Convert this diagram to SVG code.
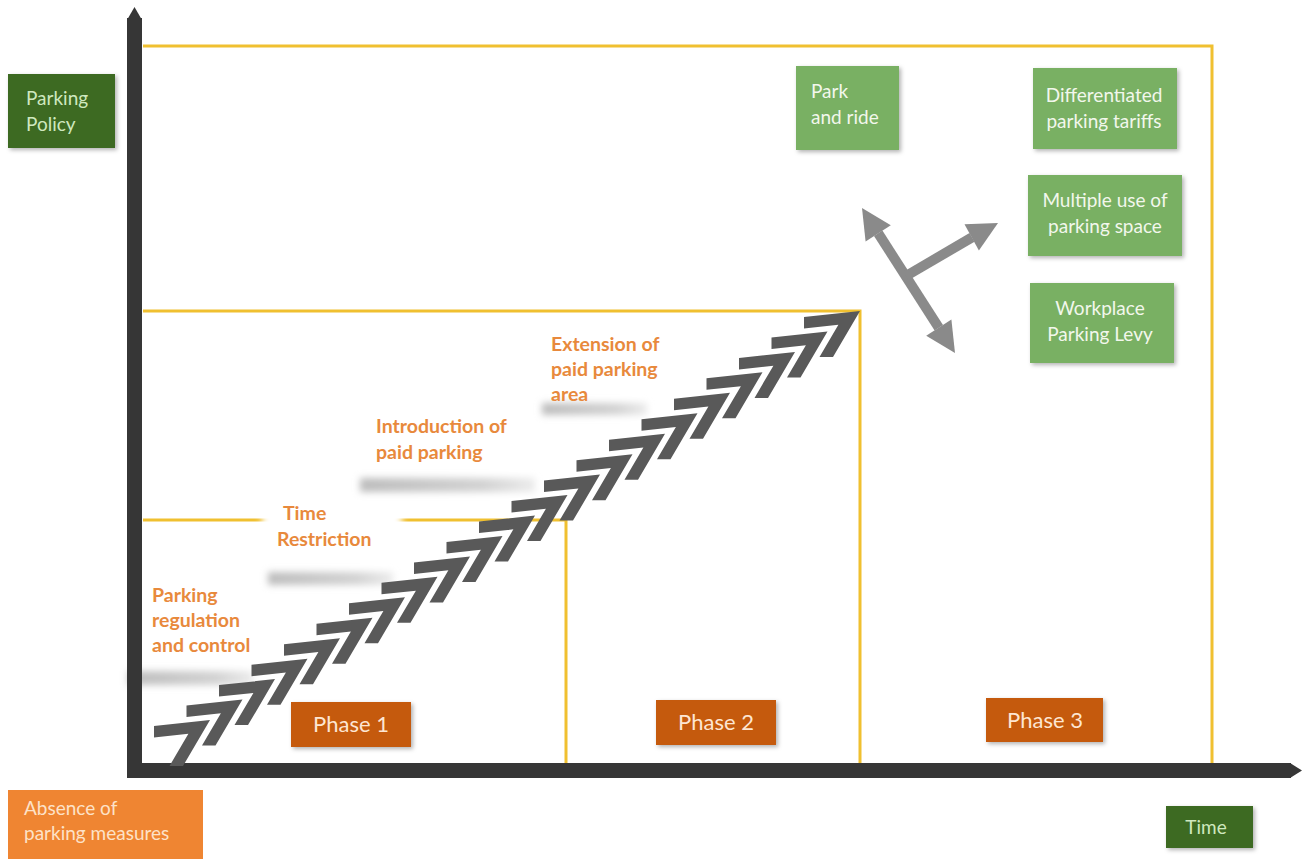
<svg xmlns="http://www.w3.org/2000/svg" width="1303" height="859" viewBox="0 0 1303 859">
<defs>
<style>
.ax{fill:#363636}
.yl{stroke:#f0c030;stroke-width:3;fill:none}
.dg{fill:#3d6b23}
.lg{fill:#79b064}
.ph{fill:#c55a11}
.ab{fill:#ef8532}
.t{font-family:Lato,"Liberation Sans",sans-serif;font-size:19px}
.tw{fill:#f2f7ec}
.tdg{fill:#cfe8bf}
.tph{fill:#fde6d2;font-size:22px}
.tab{fill:#fde2c8}
.or{font-family:Lato,"Liberation Sans",sans-serif;font-size:19.5px;font-weight:bold;fill:#e8893c}
.ar{fill:#8a8a8a}
.arl{stroke:#8a8a8a;stroke-width:10}
.sh{fill:url(#shg);filter:url(#blur)}
</style>
<linearGradient id="shg" x1="0" y1="0" x2="1" y2="0">
<stop offset="0" stop-color="#bdbdbd"/>
<stop offset="0.7" stop-color="#d2d2d2"/>
<stop offset="1" stop-color="#ececec"/>
</linearGradient>
<filter id="blur" x="-20%" y="-100%" width="140%" height="300%"><feGaussianBlur stdDeviation="3.5"/></filter>
<filter id="ds" x="-10%" y="-10%" width="125%" height="130%"><feDropShadow dx="2" dy="2" stdDeviation="2" flood-color="#000" flood-opacity="0.3"/></filter>
<path id="chev" d="M0,0 L-56,6 L-56,17.5 L-21.6,13.8 L-40.5,46 L-27,46 Z" fill="#595959"/>
</defs>
<rect width="1303" height="859" fill="#fff"/>

<g id="frames">
<path class="yl" d="M143,46 H1212 V763"/>
<path class="yl" d="M143,311 H860 V763"/>
<path class="yl" d="M143,520 H566 V763"/>
</g>

<g id="shadows">
<rect class="sh" x="128" y="671" width="125" height="14"/>
<rect class="sh" x="268" y="572" width="125" height="13"/>
<rect class="sh" x="360" y="478" width="175" height="14"/>
<rect class="sh" x="542" y="403" width="105" height="12"/>
<rect x="262" y="508" width="140" height="24" fill="#fff" filter="url(#blur)"/>
</g>

<g id="axes">
<rect class="ax" x="127" y="18" width="15" height="760"/>
<polygon class="ax" points="127,20 134.5,7 142,20"/>
<rect class="ax" x="127" y="763" width="1164" height="15"/>
<polygon class="ax" points="1290,763 1302,770.5 1290,778"/>
</g>

<g id="staircase">
<use href="#chev" x="210" y="720"/>
<use href="#chev" x="242.5" y="699.55"/>
<use href="#chev" x="275" y="679.1"/>
<use href="#chev" x="307.5" y="658.65"/>
<use href="#chev" x="340" y="638.2"/>
<use href="#chev" x="372.5" y="617.75"/>
<use href="#chev" x="405" y="597.3"/>
<use href="#chev" x="437.5" y="576.85"/>
<use href="#chev" x="470" y="556.4"/>
<use href="#chev" x="502.5" y="535.95"/>
<use href="#chev" x="535" y="515.5"/>
<use href="#chev" x="567.5" y="495.05"/>
<use href="#chev" x="600" y="474.6"/>
<use href="#chev" x="632.5" y="454.15"/>
<use href="#chev" x="665" y="433.7"/>
<use href="#chev" x="697.5" y="413.25"/>
<use href="#chev" x="730" y="392.8"/>
<use href="#chev" x="762.5" y="372.35"/>
<use href="#chev" x="795" y="351.9"/>
<use href="#chev" x="827.5" y="331.45"/>
<use href="#chev" x="860" y="311"/>
</g>

<g id="connectors">
<line class="arl" x1="878.2" y1="233.3" x2="938.8" y2="327.7"/>
<polygon class="ar" points="862,208 890.8,225.2 865.6,241.4"/>
<polygon class="ar" points="955,353 951.4,319.6 926.2,335.8"/>
<line class="arl" x1="906" y1="276" x2="972" y2="237.4"/>
<polygon class="ar" points="998,223 978.9,250.6 964.5,224.2"/>
</g>

<g id="labels">
<text class="or" x="152" y="602">Parking</text>
<text class="or" x="152" y="627">regulation</text>
<text class="or" x="152" y="652">and control</text>
<text class="or" x="283" y="520">Time</text>
<text class="or" x="277" y="546">Restriction</text>
<text class="or" x="376" y="433">Introduction of</text>
<text class="or" x="376" y="459">paid parking</text>
<text class="or" x="551" y="351">Extension of</text>
<text class="or" x="551" y="376">paid parking</text>
<text class="or" x="551" y="401">area</text>
</g>

<g id="parking-policy">
<rect class="dg" x="8" y="74" width="107" height="74" filter="url(#ds)"/>
<text class="t tdg" x="26" y="105">Parking</text>
<text class="t tdg" x="26" y="131">Policy</text>
</g>

<g id="park-and-ride">
<rect class="lg" x="796" y="66" width="103" height="84" filter="url(#ds)"/>
<text class="t tw" x="811" y="98">Park</text>
<text class="t tw" x="811" y="124">and ride</text>
</g>

<g id="differentiated">
<rect class="lg" x="1033" y="68" width="144" height="81" filter="url(#ds)"/>
<text class="t tw" x="1104" y="102" text-anchor="middle">Differentiated</text>
<text class="t tw" x="1104" y="128" text-anchor="middle">parking tariffs</text>
</g>

<g id="multiple-use">
<rect class="lg" x="1028" y="175" width="154" height="81" filter="url(#ds)"/>
<text class="t tw" x="1105" y="207" text-anchor="middle">Multiple use of</text>
<text class="t tw" x="1105" y="233" text-anchor="middle">parking space</text>
</g>

<g id="workplace">
<rect class="lg" x="1030" y="283" width="144" height="80" filter="url(#ds)"/>
<text class="t tw" x="1100" y="315" text-anchor="middle">Workplace</text>
<text class="t tw" x="1100" y="341" text-anchor="middle">Parking Levy</text>
</g>

<g id="phase1">
<rect class="ph" x="291" y="702" width="120" height="45" filter="url(#ds)"/>
<text class="t tph" x="351" y="732" text-anchor="middle">Phase 1</text>
</g>
<g id="phase2">
<rect class="ph" x="656" y="700" width="120" height="45" filter="url(#ds)"/>
<text class="t tph" x="716" y="730" text-anchor="middle">Phase 2</text>
</g>
<g id="phase3">
<rect class="ph" x="986" y="698" width="117" height="44" filter="url(#ds)"/>
<text class="t tph" x="1045" y="728" text-anchor="middle">Phase 3</text>
</g>

<g id="absence">
<rect class="ab" x="8" y="790" width="195" height="69"/>
<text class="t tab" x="24" y="815">Absence of</text>
<text class="t tab" x="24" y="840">parking measures</text>
</g>

<g id="time">
<rect class="dg" x="1166" y="806" width="87" height="42" filter="url(#ds)"/>
<text class="t tdg" x="1206" y="834" text-anchor="middle">Time</text>
</g>
</svg>
